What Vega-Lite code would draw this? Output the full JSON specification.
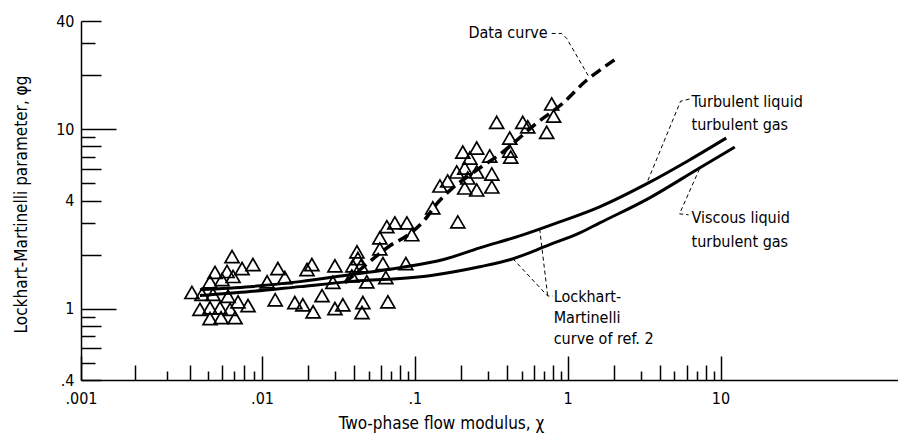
{
  "$schema": "https://vega.github.io/schema/vega-lite/v6.json",
  "width": 817,
  "height": 359,
  "autosize": {"type": "none"},
  "padding": {"left": 81, "top": 21, "right": 0, "bottom": 53},
  "background": "white",
  "config": {
    "view": {"stroke": null},
    "font": "Liberation Sans Narrow, DejaVu Sans Condensed, sans-serif",
    "text": {"font": "Liberation Sans Narrow, DejaVu Sans Condensed, sans-serif"}
  },
  "datasets": {
    "points": [
      {"x":0.00683,"y":1.95},{"x":0.0055,"y":1.59},{"x":0.00641,"y":1.61},{"x":0.00776,"y":1.67},{"x":0.00891,"y":1.76},
      {"x":0.0127,"y":1.67},{"x":0.0141,"y":1.49},{"x":0.0108,"y":1.41},{"x":0.00516,"y":1.41},{"x":0.00601,"y":1.45},
      {"x":0.00692,"y":1.51},{"x":0.0041,"y":1.23},{"x":0.00466,"y":1.2},{"x":0.00536,"y":1.2},{"x":0.00649,"y":1.17},
      {"x":0.00737,"y":1.09},{"x":0.00837,"y":1.04},{"x":0.0122,"y":1.12},{"x":0.00454,"y":0.99},{"x":0.00516,"y":1.01},
      {"x":0.00586,"y":1.01},{"x":0.00666,"y":0.99},{"x":0.00516,"y":0.88},{"x":0.00594,"y":0.89},{"x":0.0071,"y":0.89},
      {"x":0.0164,"y":1.08},
      {"x":0.0197,"y":1.65},{"x":0.0212,"y":1.76},{"x":0.03,"y":1.73},{"x":0.0418,"y":2.07},{"x":0.0424,"y":1.9},
      {"x":0.0393,"y":1.73},{"x":0.0444,"y":1.73},{"x":0.059,"y":2.48},{"x":0.059,"y":2.15},{"x":0.0955,"y":2.58},
      {"x":0.0618,"y":1.78},{"x":0.0873,"y":1.78},{"x":0.0387,"y":1.52},{"x":0.0485,"y":1.41},{"x":0.0646,"y":1.49},
      {"x":0.0291,"y":1.4},{"x":0.0247,"y":1.18},{"x":0.0185,"y":1.05},{"x":0.0216,"y":0.96},{"x":0.03,"y":1.0},
      {"x":0.0338,"y":1.05},{"x":0.0457,"y":1.08},{"x":0.0451,"y":0.95},{"x":0.0666,"y":1.09},{"x":0.074,"y":3.0},
      {"x":0.0887,"y":3.0},{"x":0.0656,"y":2.86},
      {"x":0.131,"y":3.64},{"x":0.191,"y":3.04},{"x":0.146,"y":4.82},{"x":0.164,"y":5.14},{"x":0.212,"y":4.7},
      {"x":0.222,"y":5.34},{"x":0.254,"y":4.58},{"x":0.319,"y":4.76},{"x":0.212,"y":6.07},{"x":0.254,"y":5.77},
      {"x":0.319,"y":5.62},{"x":0.188,"y":5.77},{"x":0.206,"y":7.45},{"x":0.229,"y":6.9},{"x":0.254,"y":7.84},
      {"x":0.309,"y":7.08},{"x":0.418,"y":8.91},{"x":0.418,"y":7.55},{"x":0.424,"y":6.98},{"x":0.343,"y":10.9},
      {"x":0.508,"y":10.9},{"x":0.548,"y":10.3},{"x":0.786,"y":13.8},{"x":0.809,"y":11.8},{"x":0.729,"y":9.6}
    ],
    "dataCurve": [
      {"x":0.0349,"y":1.395},{"x":0.0471,"y":1.733},{"x":0.0687,"y":2.239},{"x":0.0927,"y":2.61},{"x":0.116,"y":3.12},
      {"x":0.139,"y":3.83},{"x":0.177,"y":4.7},{"x":0.229,"y":5.55},{"x":0.376,"y":7.45},{"x":0.627,"y":10.8},
      {"x":0.927,"y":13.9},{"x":1.33,"y":18.7},{"x":1.69,"y":21.8},{"x":2.09,"y":24.8}
    ],
    "ttCurve": [
      {"x":0.00454,"y":1.275},{"x":0.00859,"y":1.325},{"x":0.0177,"y":1.413},{"x":0.0376,"y":1.545},{"x":0.0798,"y":1.69},
      {"x":0.152,"y":1.87},{"x":0.266,"y":2.18},{"x":0.486,"y":2.54},{"x":0.887,"y":3.04},{"x":1.62,"y":3.69},
      {"x":3.28,"y":4.95},{"x":6.27,"y":6.73},{"x":10.9,"y":8.91}
    ],
    "vtCurve": [
      {"x":0.00454,"y":1.181},{"x":0.00859,"y":1.243},{"x":0.0177,"y":1.325},{"x":0.0376,"y":1.413},{"x":0.125,"y":1.525},
      {"x":0.266,"y":1.71},{"x":0.418,"y":1.87},{"x":0.762,"y":2.27},{"x":1.2,"y":2.64},{"x":1.62,"y":3.0},
      {"x":3.44,"y":4.14},{"x":7.29,"y":6.07},{"x":12.4,"y":7.94}
    ],
    "leaders": [
      {"id":"data","o":1,"x":0.786,"y":34.1},{"id":"data","o":2,"x":0.914,"y":34.1},{"id":"data","o":3,"x":0.985,"y":32.0},{"id":"data","o":4,"x":1.393,"y":19.2},
      {"id":"tt","o":1,"x":6.27,"y":14.7},{"id":"tt","o":2,"x":5.48,"y":14.3},{"id":"tt","o":3,"x":3.28,"y":4.95},
      {"id":"vt","o":1,"x":7.29,"y":6.0},{"id":"vt","o":2,"x":5.39,"y":3.37},{"id":"vt","o":3,"x":6.18,"y":3.33},
      {"id":"lm1","o":1,"x":0.656,"y":2.78},{"id":"lm1","o":2,"x":0.74,"y":1.175},
      {"id":"lm2","o":1,"x":0.437,"y":1.9},{"id":"lm2","o":2,"x":0.74,"y":1.175},{"id":"lm2","o":3,"x":0.8,"y":1.175}
    ],
    "labelsLeft": [
      {"x":6.46,"y":14.1,"t":"Turbulent liquid"},
      {"x":6.46,"y":10.5,"t":"turbulent gas"},
      {"x":6.46,"y":3.2,"t":"Viscous liquid"},
      {"x":6.46,"y":2.36,"t":"turbulent gas"},
      {"x":0.81,"y":1.166,"t":"Lockhart-"},
      {"x":0.81,"y":0.891,"t":"Martinelli"},
      {"x":0.81,"y":0.673,"t":"curve of ref. 2"}
    ],
    "labelsRight": [
      {"x":0.74,"y":34.1,"t":"Data curve"}
    ]
  },
  "layer": [
    {
      "data": {"name": "points"},
      "mark": {"type": "point", "shape": "triangle-up", "filled": false, "stroke": "black", "strokeWidth": 1.7, "size": 195, "opacity": 1},
      "encoding": {
        "x": {
          "field": "x", "type": "quantitative",
          "scale": {"type": "log", "domain": [0.001, 0.01, 145], "range": [0, 181, 817], "nice": false, "zero": false},
          "axis": {
            "title": "Two-phase flow modulus, χ",
            "values": [0.001,0.002,0.003,0.004,0.005,0.006,0.007,0.008,0.009,0.01,0.02,0.03,0.04,0.05,0.06,0.07,0.08,0.09,0.1,0.2,0.3,0.4,0.5,0.6,0.7,0.8,0.9,1,2,3,4,5,6,7,8,9,10],
            "labelExpr": "datum.value == 0.001 ? '.001' : datum.value == 0.01 ? '.01' : datum.value == 0.1 ? '.1' : datum.value == 1 ? '1' : datum.value == 10 ? '10' : ''",
            "tickSize": {"condition": [
              {"test": "datum.value == 0.001 || datum.value == 0.01 || datum.value == 0.1 || datum.value == 1 || datum.value == 10", "value": -24},
              {"test": "round(datum.value / pow(10, floor(log(datum.value)/LN10 + 1e-9))) % 2 == 0", "value": -15}
            ], "value": -9},
            "labelPadding": 34,
            "grid": false,
            "domainColor": "black", "domainWidth": 1.5,
            "tickColor": "black", "tickWidth": 1.5,
            "labelFlush": false, "labelOverlap": false,
            "labelFontSize": 16, "labelColor": "black", "labelBaseline": "top",
            "titleFontSize": 17, "titleFontWeight": "normal", "titleColor": "black",
            "titleX": 360, "titleY": 48, "titleBaseline": "alphabetic", "titleAlign": "center", "titleAnchor": null
          }
        },
        "y": {
          "field": "y", "type": "quantitative",
          "scale": {"type": "log", "domain": [0.4, 40], "nice": false, "zero": false},
          "axis": {
            "title": "Lockhart-Martinelli parameter, φg",
            "values": [0.4,0.5,0.6,0.7,0.8,0.9,1,2,3,4,5,6,7,8,9,10,20,30,40],
            "labelExpr": "datum.value == 0.4 ? '.4' : datum.value == 1 ? '1' : datum.value == 4 ? '4' : datum.value == 10 ? '10' : datum.value == 40 ? '40' : ''",
            "tickSize": {"condition": [
              {"test": "datum.value == 1 || datum.value == 10", "value": -35},
              {"test": "round(datum.value / pow(10, floor(log(datum.value)/LN10 + 1e-9))) % 2 == 0", "value": -20}
            ], "value": -14},
            "labelPadding": {"condition": {"test": "datum.value == 1 || datum.value == 10", "value": 42}, "value": 27},
            "grid": false,
            "domainColor": "black", "domainWidth": 1.5,
            "tickColor": "black", "tickWidth": 1.5,
            "labelFlush": false, "labelOverlap": false,
            "labelFontSize": 16, "labelColor": "black",
            "titleFontSize": 17, "titleFontWeight": "normal", "titleColor": "black",
            "titleX": -60, "titleY": 183, "titleAngle": -90, "titleBaseline": "middle", "titleAlign": "center", "titleAnchor": null
          }
        }
      }
    },
    {
      "data": {"name": "dataCurve"},
      "mark": {"type": "line", "color": "black", "strokeWidth": 3.5, "strokeDash": [11, 6], "interpolate": "monotone"},
      "encoding": {"x": {"field": "x", "type": "quantitative"}, "y": {"field": "y", "type": "quantitative"}}
    },
    {
      "data": {"name": "ttCurve"},
      "mark": {"type": "line", "color": "black", "strokeWidth": 3, "interpolate": "monotone"},
      "encoding": {"x": {"field": "x", "type": "quantitative"}, "y": {"field": "y", "type": "quantitative"}}
    },
    {
      "data": {"name": "vtCurve"},
      "mark": {"type": "line", "color": "black", "strokeWidth": 3, "interpolate": "monotone"},
      "encoding": {"x": {"field": "x", "type": "quantitative"}, "y": {"field": "y", "type": "quantitative"}}
    },
    {
      "data": {"name": "leaders"},
      "mark": {"type": "line", "color": "black", "strokeWidth": 1, "strokeDash": [4, 3]},
      "encoding": {
        "x": {"field": "x", "type": "quantitative"},
        "y": {"field": "y", "type": "quantitative"},
        "detail": {"field": "id"},
        "order": {"field": "o", "type": "quantitative"}
      }
    },
    {
      "data": {"name": "labelsLeft"},
      "mark": {"type": "text", "align": "left", "baseline": "middle", "fontSize": 16, "color": "black"},
      "encoding": {"x": {"field": "x", "type": "quantitative"}, "y": {"field": "y", "type": "quantitative"}, "text": {"field": "t"}}
    },
    {
      "data": {"name": "labelsRight"},
      "mark": {"type": "text", "align": "right", "baseline": "middle", "fontSize": 16, "color": "black"},
      "encoding": {"x": {"field": "x", "type": "quantitative"}, "y": {"field": "y", "type": "quantitative"}, "text": {"field": "t"}}
    }
  ]
}
